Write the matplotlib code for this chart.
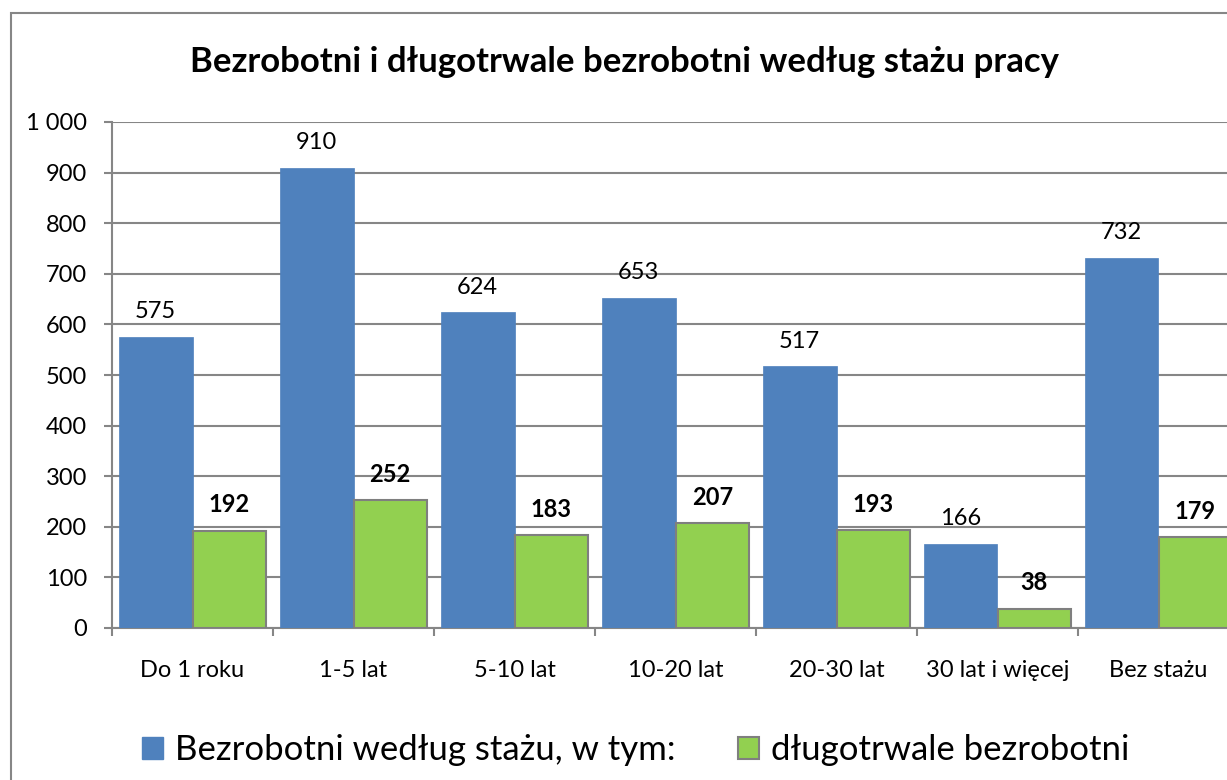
import matplotlib
matplotlib.use("Agg")
import matplotlib.pyplot as plt
from matplotlib.patches import Rectangle, Patch
from matplotlib.ticker import FuncFormatter

plt.rcParams['font.family'] = ['Lato', 'DejaVu Sans']

categories = ["Do 1 roku", "1-5 lat", "5-10 lat", "10-20 lat", "20-30 lat", "30 lat i więcej", "Bez stażu"]
bezrobotni = [575, 910, 624, 653, 517, 166, 732]
dlugotrwale = [192, 252, 183, 207, 193, 38, 179]
series_names = ["Bezrobotni według stażu, w tym:", "długotrwale bezrobotni"]
title = "Bezrobotni i długotrwale bezrobotni według stażu pracy"

BLUE = "#4F81BD"
GREEN = "#92D050"
GRID = "#868686"

W, H = 1227, 780
fig = plt.figure(figsize=(W / 100, H / 100), dpi=100)

# outer chart border (runs off the right/bottom edge like the screenshot)
fig.patches.append(Rectangle((11 / W, -0.05), 1.1, (H - 13) / H + 0.05,
                             transform=fig.transFigure, fill=False,
                             edgecolor=GRID, lw=1.5))

ax = fig.add_axes([112 / W, (H - 628) / H, 1127 / W, 506 / H])

x = list(range(len(categories)))
bw = 0.457
bars1 = ax.bar([i - bw / 2 for i in x], bezrobotni, width=bw, color=BLUE,
               edgecolor=BLUE, lw=0.5, zorder=3)
bars2 = ax.bar([i + bw / 2 for i in x], dlugotrwale, width=bw, color=GREEN,
               edgecolor="#7F7F7F", lw=1.5, zorder=3)

for b, v in zip(bars1, bezrobotni):
  ax.annotate(f"{v}", (b.get_x() + b.get_width() / 2, v), xytext=(0, 13.5),
              textcoords="offset points", ha="center", va="baseline", fontsize=17)
for b, v in zip(bars2, dlugotrwale):
  ax.annotate(f"{v}", (b.get_x() + b.get_width() / 2, v), xytext=(0, 13.5),
              textcoords="offset points", ha="center", va="baseline",
              fontsize=17, fontweight="bold")

ax.set_xlim(-0.5, len(categories) - 0.5)
ax.set_ylim(0, 1000)
ax.set_yticks(range(0, 1001, 100))
ax.yaxis.set_major_formatter(FuncFormatter(lambda v, p: f"{int(v):,}".replace(",", " ")))
ax.grid(axis="y", color=GRID, lw=1.5, zorder=0)

# category boundaries as ticks, labels in between
ax.set_xticks([i - 0.5 for i in x] + [len(x) - 0.5])
ax.set_xticks(x, minor=True)
ax.set_xticklabels(categories, minor=True)
ax.set_xticklabels([])
ax.tick_params(axis="x", which="major", length=6, width=1.5, color=GRID, direction="out")
ax.tick_params(axis="x", which="minor", length=0, pad=23, labelsize=17)
ax.tick_params(axis="y", length=6, width=1.5, color=GRID, pad=12, labelsize=17)

for s in ["top", "right"]:
  ax.spines[s].set_visible(False)
for s in ["left", "bottom"]:
  ax.spines[s].set_color(GRID)
  ax.spines[s].set_linewidth(1.5)

fig.text(624 / W, (H - 62) / H, title, ha="center", va="center",
         fontsize=25, fontweight="bold")

handles = [Patch(facecolor=BLUE, edgecolor=BLUE),
           Patch(facecolor=GREEN, edgecolor="#7F7F7F", lw=1.5)]
fig.legend(handles, series_names, loc="center", bbox_to_anchor=(636 / W, (H - 750) / H),
           ncol=2, frameon=False, fontsize=25, handlelength=0.6, handleheight=0.6,
           handletextpad=0.35, columnspacing=1.8, borderpad=0)

fig.savefig("out.png", dpi=100)
